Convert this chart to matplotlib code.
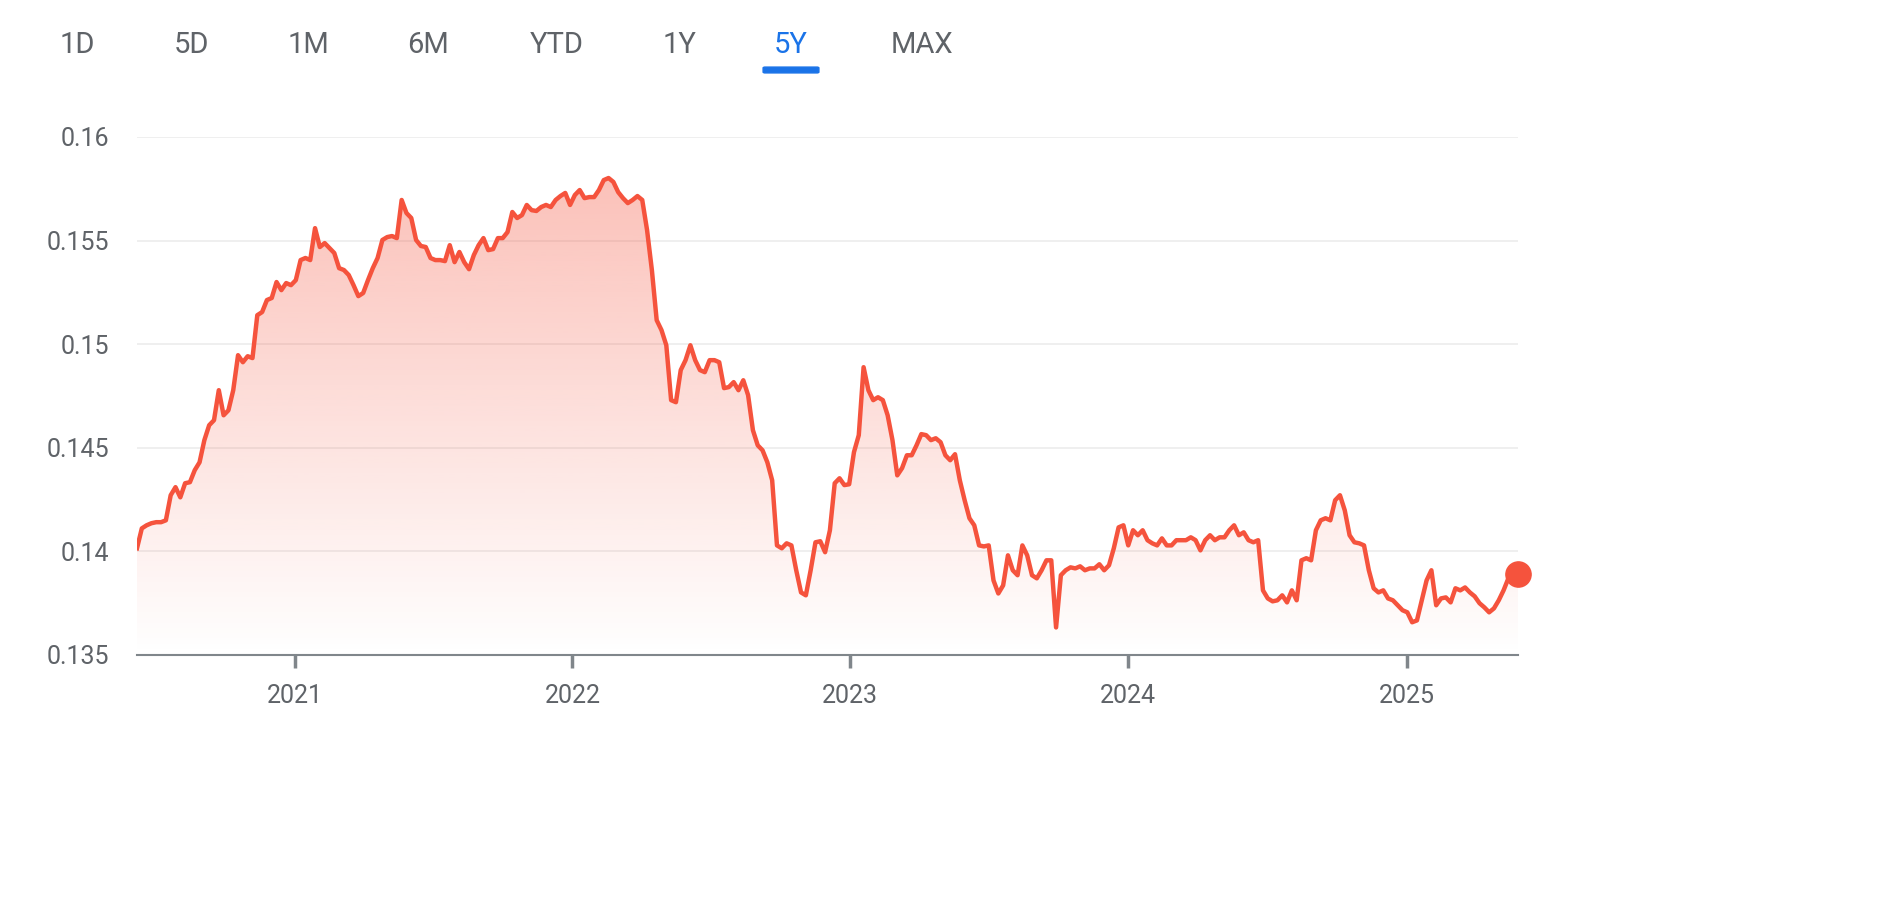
import matplotlib
matplotlib.use("Agg")
import matplotlib.pyplot as plt
import matplotlib.dates as mdates
import numpy as np
import pandas as pd
from matplotlib.patches import Polygon

plt.rcParams['font.family'] = ['Roboto', 'DejaVu Sans']

values = [0.14015,0.14111,0.14126,0.14136,0.14141,0.14141,0.1415,0.14271,0.1431,0.14261,0.14329,0.14334,0.14392,0.1443,
0.14537,0.14609,0.14633,0.14778,0.14657,0.14681,0.14778,0.14947,0.14913,0.14942,0.14933,0.1514,0.15155,0.15213,0.15223,
0.153,0.15261,0.15295,0.15285,0.15309,0.15406,0.15416,0.15406,0.1556,0.15469,0.15488,0.15464,0.1544,0.15367,0.15358,
0.15334,0.15285,0.15232,0.15247,0.15309,0.15367,0.15416,0.15503,0.15517,0.15522,0.15512,0.15696,0.15633,0.15609,0.15503,
0.15474,0.15469,0.15416,0.15406,0.15406,0.15401,0.15478,0.15396,0.15445,0.15396,0.15362,0.1543,0.15478,0.15512,0.15454,
0.15459,0.15512,0.15512,0.15541,0.15638,0.15609,0.15623,0.15672,0.15647,0.15643,0.15662,0.15672,0.15662,0.15696,0.15715,
0.1573,0.15672,0.1572,0.15744,0.15705,0.1571,0.1571,0.15744,0.15792,0.15802,0.15783,0.15734,0.15705,0.15681,0.15696,
0.15715,0.15696,0.15551,0.15358,0.15116,0.15068,0.14995,0.1473,0.1472,0.14875,0.14923,0.14995,0.14923,0.14875,0.14865,
0.14923,0.14923,0.14913,0.14788,0.14793,0.14817,0.14778,0.14826,0.14754,0.14585,0.14512,0.14488,0.1443,0.14343,0.14029,
0.14015,0.14039,0.14029,0.13909,0.13802,0.13788,0.13909,0.14044,0.14049,0.13996,0.14102,0.14329,0.14353,0.1432,0.14324,
0.14479,0.14561,0.14889,0.14778,0.1473,0.14744,0.1473,0.14657,0.14537,0.14367,0.14402,0.14464,0.14464,0.14512,0.14566,
0.14561,0.14537,0.14546,0.14527,0.14464,0.1444,0.14469,0.14343,0.14247,0.1416,0.14126,0.14029,0.14024,0.14029,0.1386,
0.13797,0.13836,0.13981,0.13909,0.13885,0.14029,0.13981,0.13885,0.1387,0.13909,0.13957,0.13957,0.13633,0.13885,0.13909,
0.13923,0.13918,0.13928,0.13909,0.13918,0.13918,0.13938,0.13909,0.13933,0.14015,0.14116,0.14126,0.14029,0.14102,0.14078,
0.14102,0.14054,0.14039,0.14029,0.14063,0.14029,0.14029,0.14054,0.14054,0.14054,0.14068,0.14054,0.14005,0.14054,0.14078,
0.14054,0.14068,0.14068,0.14102,0.14126,0.14078,0.14092,0.14054,0.14044,0.14054,0.13812,0.13773,0.13759,0.13764,0.13788,
0.13754,0.13812,0.13764,0.13957,0.13967,0.13957,0.14102,0.1415,0.1416,0.1415,0.14247,0.14271,0.14198,0.14078,0.14044,
0.14039,0.14029,0.13909,0.13822,0.13802,0.13812,0.13773,0.13764,0.1374,0.13716,0.13706,0.13658,0.13667,0.13764,0.1386,
0.13909,0.1374,0.13773,0.13778,0.13754,0.13822,0.13812,0.13826,0.13802,0.13783,0.1375,0.1373,0.13706,0.13725,0.13764,
0.13812,0.1387,0.13889,0.13889]
start_date, end_date = "2020-06-08", "2025-05-27"
dates = pd.date_range(start_date, end_date, periods=len(values))
years = [2021, 2022, 2023, 2024, 2025]
yticks = [0.135, 0.14, 0.145, 0.15, 0.155, 0.16]
ranges = ["1D", "5D", "1M", "6M", "YTD", "1Y", "5Y", "MAX"]
range_x = [77, 191, 308, 428, 557, 679, 791, 922]

LINE = "#f5533d"
GRAY = "#5f6368"
fig = plt.figure(figsize=(18.94, 9.10), dpi=100)
ax = fig.add_axes([137/1894, 1-655/910, (1518-137)/1894, 518/910])
x = mdates.date2num(dates)
ax.set_xlim(x[0], x[-1])

# gradient fill (strong at top, fading to white at bottom)
grad = np.zeros((256, 1, 4))
grad[..., :3] = matplotlib.colors.to_rgb(LINE)
grad[:, 0, 3] = np.linspace(0.36, 0.0, 256)
img = ax.imshow(grad, aspect='auto', extent=[x[0], x[-1], 0.135, 0.158], origin='upper', zorder=1)
poly = Polygon(np.column_stack([np.r_[x, x[-1], x[0]], np.r_[values, 0.135, 0.135]]),
               closed=True, transform=ax.transData, facecolor='none', edgecolor='none')
ax.add_patch(poly)
img.set_clip_path(poly)
ax.set_xlim(x[0], x[-1])
ax.set_ylim(0.135, 0.16)

ax.plot(x, values, color=LINE, lw=3.2, zorder=3, solid_joinstyle='round')
ax.scatter([x[-1]], [values[-1]], s=330, color=LINE, zorder=4, clip_on=False)

ax.set_yticks(yticks)
ax.set_yticklabels([f"{v:g}" for v in yticks])
ax.set_xticks([mdates.date2num(pd.Timestamp(f"{y}-01-01")) for y in years])
ax.set_xticklabels([str(y) for y in years])
ax.grid(axis='y', color="#ececec", lw=1.2)
ax.set_axisbelow(True)
for s in ["left", "right", "top"]:
    ax.spines[s].set_visible(False)
ax.spines["bottom"].set_color("#80868b")
ax.spines["bottom"].set_linewidth(1.5)
ax.tick_params(axis='y', length=0, pad=20, labelsize=18, labelcolor=GRAY)
ax.tick_params(axis='x', length=9, width=2.5, color="#80868b", pad=12, labelsize=18, labelcolor=GRAY)

for lab, px in zip(ranges, range_x):
    col = "#1a73e8" if lab == "5Y" else GRAY
    fig.text(px/1894, 1-45/910, lab, ha='center', va='center', fontsize=21, color=col)
fig.patches.append(matplotlib.patches.FancyBboxPatch((765/1894, 1-72/910), 52/1894, 4/910,
    boxstyle="round,pad=0.001", transform=fig.transFigure, color="#1a73e8", figure=fig))

fig.savefig("out.png", dpi=100)
